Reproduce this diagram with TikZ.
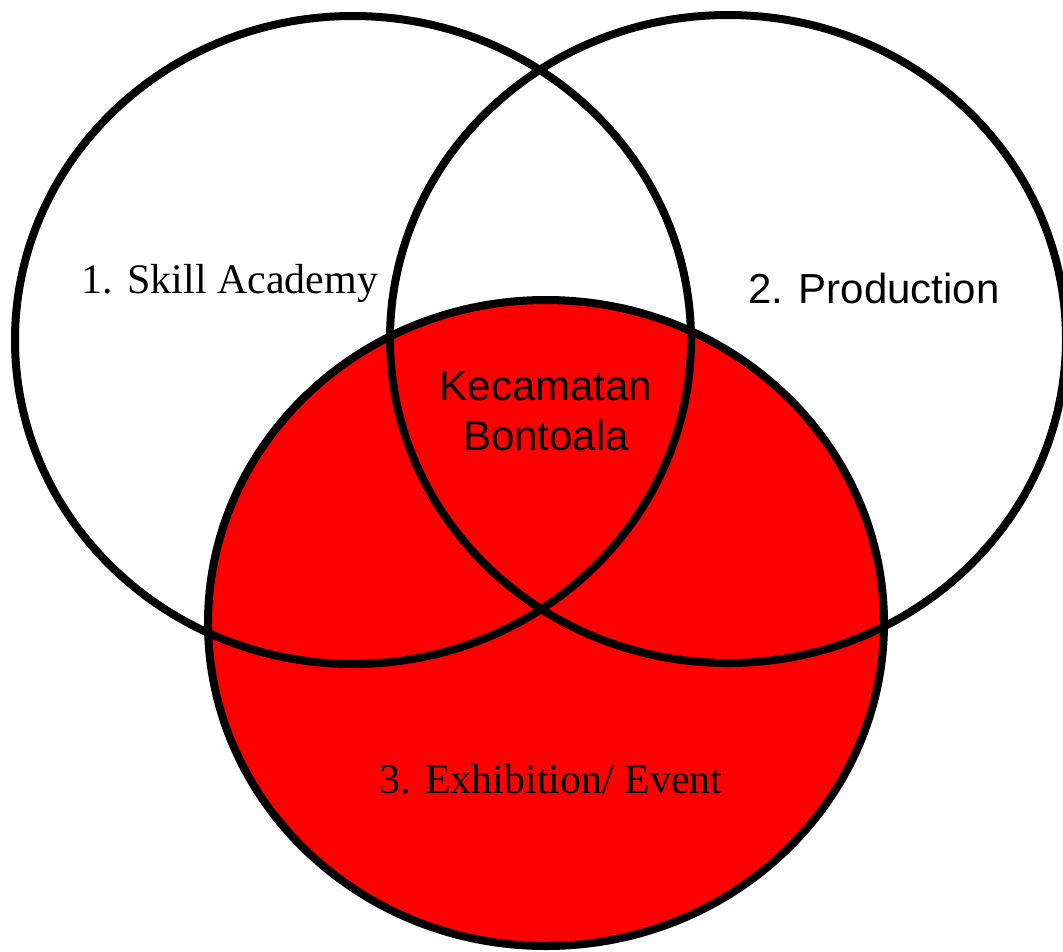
\documentclass[tikz,border=0pt]{standalone}
\usepackage{fontspec}
\setmainfont{Liberation Serif}
\newfontfamily\arialf{Liberation Sans}
\definecolor{vred}{RGB}{255,0,0}
\begin{document}
\begin{tikzpicture}[x=1pt,y=-1pt,
  ring/.style={draw=black,line width=8pt},
  serifl/.style={font=\fontsize{42}{50}\selectfont,anchor=base,inner sep=0pt},
  sansl/.style={font=\arialf\fontsize{42}{50}\selectfont,anchor=base,inner sep=0pt}]
\useasboundingbox (0,0) rectangle (1063,951);
\fill[white] (353,340) ellipse [x radius=338, y radius=324];
\fill[white] (728,339) ellipse [x radius=338, y radius=324];
\fill[vred] (546,623) ellipse [x radius=338, y radius=323];
\draw[ring] (353,340) ellipse [x radius=338, y radius=324];
\draw[ring] (728,339) ellipse [x radius=338, y radius=324];
\draw[ring] (546,623) ellipse [x radius=338, y radius=323];
\node[serifl] (skill) at (230,293) {1. Skill Academy};
\node[sansl] (prod) at (874,303) {2. Production};
\node[sansl] (kec) at (546,400) {Kecamatan};
\node[sansl] (bon) at (546,450) {Bontoala};
\node[serifl] (exh) at (551,793) {3. Exhibition/ Event};
\end{tikzpicture}
\end{document}
